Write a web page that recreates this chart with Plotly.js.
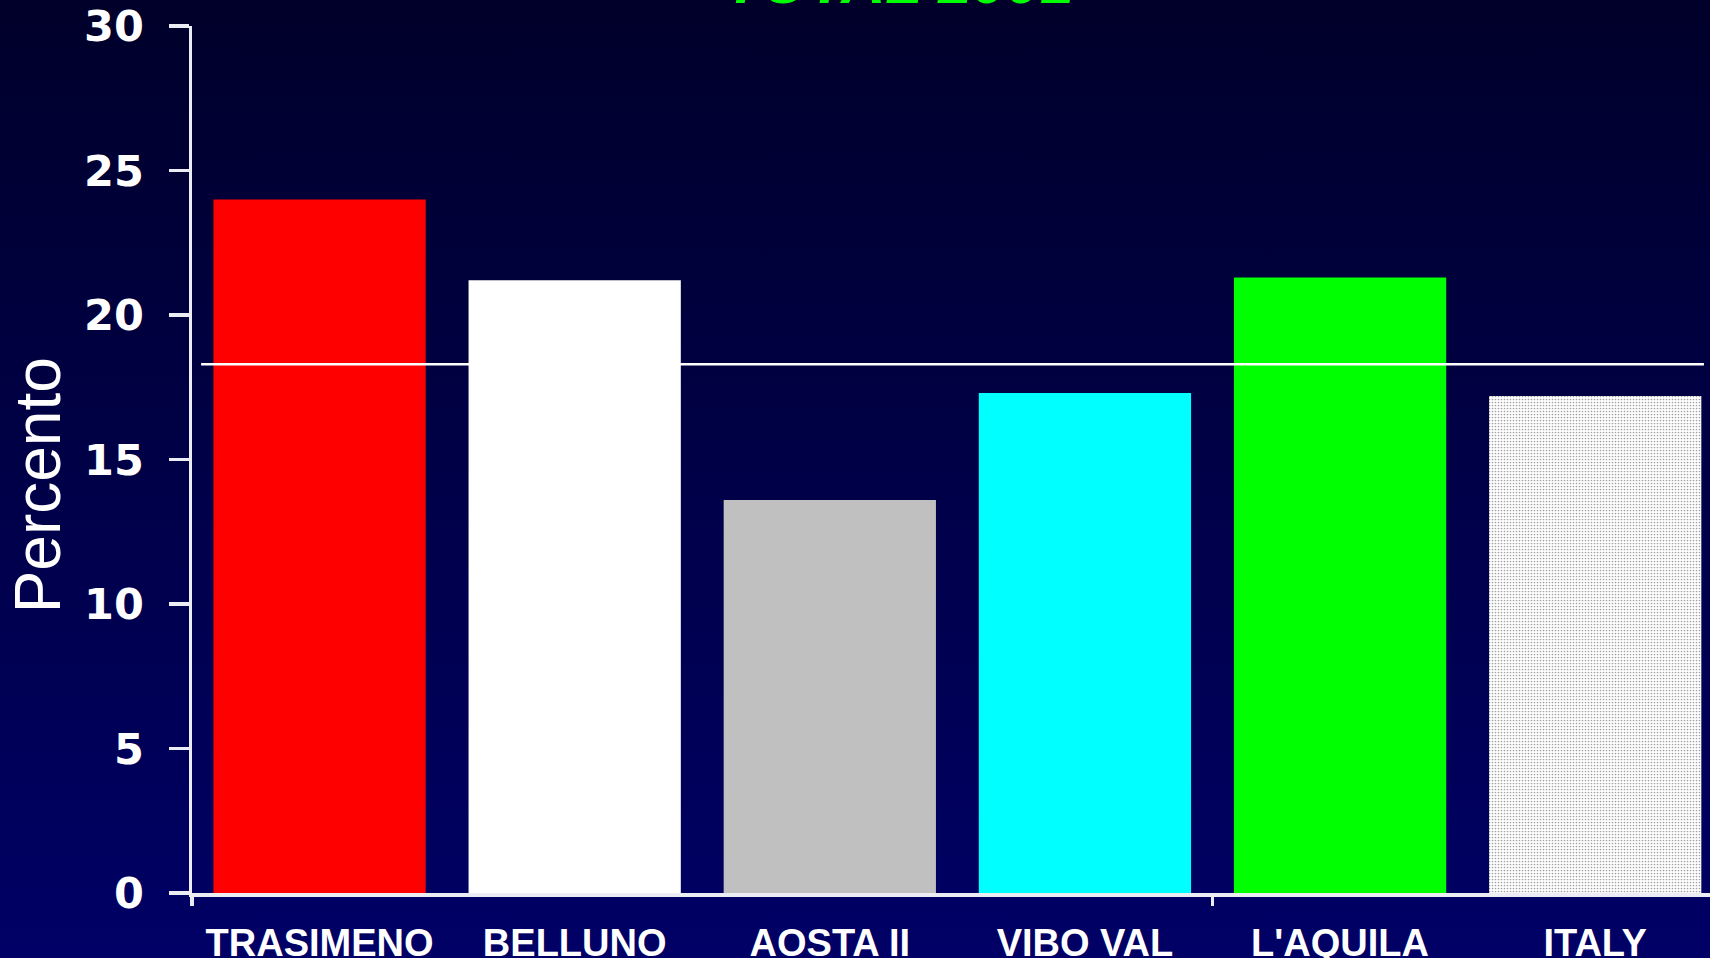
<!DOCTYPE html>
<html>
<head>
<meta charset="utf-8">
<script src="https://cdn.plot.ly/plotly-3.0.1.min.js"></script>
<style>
  html, body { margin: 0; padding: 0; width: 1710px; height: 958px; overflow: hidden;
    background: linear-gradient(to bottom, #00002a 0%, #000066 100%); }
  #chart { width: 1710px; height: 958px; }
</style>
</head>
<body>
<div id="chart"></div>
<script>
// ---- data ----
const categories = ['TRASIMENO', 'BELLUNO', 'AOSTA II', 'VIBO VAL', "L'AQUILA", 'ITALY'];
const percentValues = [24.0, 21.2, 13.6, 17.3, 21.3, 17.2];
const barColors = ['#ff0000', '#ffffff', '#c0c0c0', '#00ffff', '#00ff00', '#ffffff'];
const barPatterns = ['', '', '', '', '', '.'];
const referenceValue = 18.3;
const yTickValues = [0, 5, 10, 15, 20, 25, 30];
const xBoundaryTicks = [-0.5, 3.5];
const chartTitle = 'TOTAL 2001';
const yAxisTitle = 'Percento';

const axisColor = '#ececf4';
const xRange = [-0.5, 5.45];

const traces = [
  {
    type: 'bar',
    x: categories,
    y: percentValues,
    marker: {
      color: barColors,
      line: { width: 0 },
      pattern: { shape: barPatterns, fillmode: 'overlay', fgcolor: '#c4c4c4', size: 3, solidity: 0.25 }
    },
    hoverinfo: 'x+y',
    showlegend: false
  },
  {
    // carrier for the boundary-tick axis (draws nothing)
    type: 'scatter',
    mode: 'none',
    x: xBoundaryTicks,
    y: [0, 0],
    xaxis: 'x2',
    yaxis: 'y',
    hoverinfo: 'skip',
    showlegend: false
  }
];

const layout = {
  width: 1710,
  height: 958,
  margin: { l: 192, r: 0, t: 25.5, b: 65, pad: 0 },
  paper_bgcolor: 'rgba(0,0,0,0)',
  plot_bgcolor: 'rgba(0,0,0,0)',
  bargap: 0.168,
  showlegend: false,
  title: {
    text: chartTitle,
    font: { family: 'Liberation Sans', size: 61, color: '#00ff00', weight: 'bold', style: 'italic' },
    xref: 'container', x: 0.526, xanchor: 'center',
    yref: 'container', y: 1, yanchor: 'bottom',
    pad: { b: -3, t: 0, l: 0, r: 0 }
  },
  xaxis: {
    type: 'category',
    range: xRange,
    showline: true, linecolor: axisColor, linewidth: 3.5,
    ticks: '', showgrid: false, zeroline: false,
    tickfont: { family: 'Liberation Sans', size: 38, color: '#ffffff', weight: 'bold' },
    ticklabelstandoff: 14,
    fixedrange: true
  },
  xaxis2: {
    type: 'linear',
    overlaying: 'x',
    anchor: 'y',
    range: xRange,
    tickmode: 'array', tickvals: xBoundaryTicks,
    ticks: 'outside', ticklen: 12, tickwidth: 3.5, tickcolor: axisColor,
    showticklabels: false, showline: false, showgrid: false, zeroline: false,
    fixedrange: true
  },
  yaxis: {
    range: [0, 30],
    tickmode: 'array', tickvals: yTickValues,
    ticks: 'outside', ticklen: 20, tickwidth: 3.5, tickcolor: axisColor,
    showline: true, linecolor: axisColor, linewidth: 3.5,
    showgrid: false, zeroline: false,
    tickfont: { family: 'DejaVu Sans', size: 43, color: '#ffffff', weight: 'bold' },
    ticklabelstandoff: 16,
    fixedrange: true
  },
  annotations: [{
    text: yAxisTitle,
    textangle: -90,
    xref: 'paper', x: -0.1014, xanchor: 'center',
    yref: 'paper', y: 0.4703, yanchor: 'middle',
    showarrow: false,
    font: { family: 'Liberation Sans', size: 64, color: '#ffffff' }
  }],
  shapes: [{
    type: 'line', layer: 'above',
    xref: 'x domain', x0: 0.006, x1: 0.996,
    yref: 'y', y0: referenceValue, y1: referenceValue,
    line: { color: '#ffffff', width: 2.5 }
  }]
};

Plotly.newPlot('chart', traces, layout, { displayModeBar: false, staticPlot: true });
</script>
</body>
</html>
